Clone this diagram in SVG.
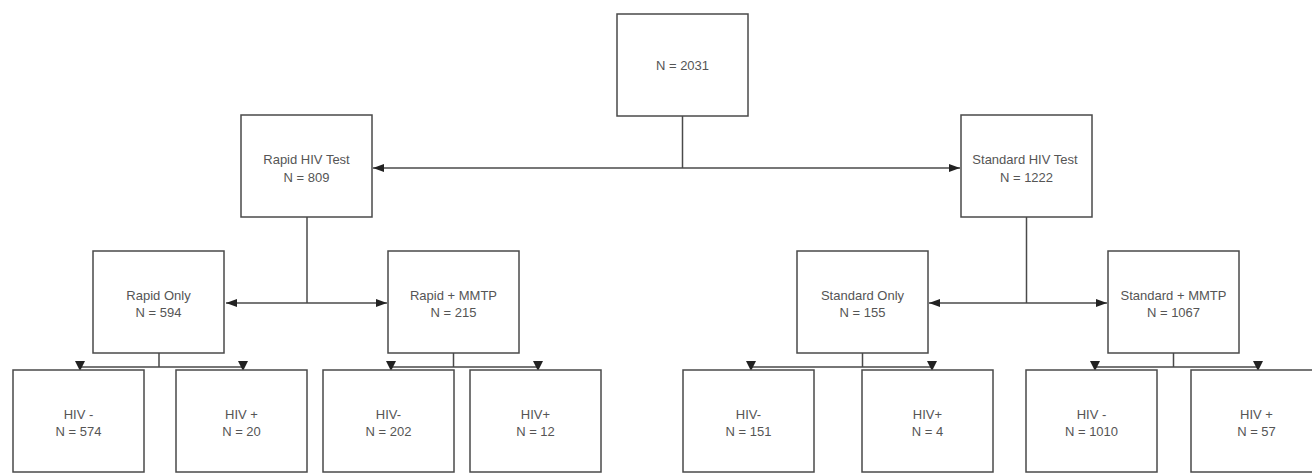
<svg xmlns="http://www.w3.org/2000/svg" width="1312" height="473" viewBox="0 0 1312 473">
<style>
.box{fill:#fff;stroke:#4a4a4a;stroke-width:1.5}
.t{font-family:"Liberation Sans",Arial,sans-serif;font-size:13px;fill:#555;text-anchor:middle}
.c{fill:none;stroke:#4a4a4a;stroke-width:1.5}
.ah{fill:#222}
</style>
<defs>
<marker id="arr" viewBox="0 0 11 8" refX="11" refY="4" markerWidth="11" markerHeight="8" markerUnits="userSpaceOnUse" orient="auto-start-reverse">
<path d="M0,0 L11,4 L0,8 z" fill="#222"/>
</marker>
</defs>
<rect width="1312" height="473" fill="#fff"/>
<g id="connectors">
<path class="c" d="M682.5,116 V168"/>
<path class="c" d="M373,168 H960" marker-start="url(#arr)" marker-end="url(#arr)"/>
<path class="c" d="M307,217 V303"/>
<path class="c" d="M226,303 H387" marker-start="url(#arr)" marker-end="url(#arr)"/>
<path class="c" d="M1026.5,217 V303"/>
<path class="c" d="M929,303 H1107" marker-start="url(#arr)" marker-end="url(#arr)"/>
<path class="c" d="M159,353 V367 M80,367 H243"/>
<polygon class="ah" points="75,361 85,361 80,371"/>
<polygon class="ah" points="238,361 248,361 243,371"/>
<path class="c" d="M453.5,353 V367 M391,367 H538"/>
<polygon class="ah" points="386,361 396,361 391,371"/>
<polygon class="ah" points="533,361 543,361 538,371"/>
<path class="c" d="M862.5,353 V367 M751,367 H932"/>
<polygon class="ah" points="746,361 756,361 751,371"/>
<polygon class="ah" points="927,361 937,361 932,371"/>
<path class="c" d="M1173.5,353 V367 M1095,367 H1258"/>
<polygon class="ah" points="1090,361 1100,361 1095,371"/>
<polygon class="ah" points="1253,361 1263,361 1258,371"/>
</g>
<g id="n-total"><rect class="box" x="617" y="14" width="131" height="102"/><text class="t" x="682.5" y="70">N = 2031</text></g>
<g id="n-rapid-test"><rect class="box" x="241" y="115" width="131" height="102"/><text class="t" x="306.5" y="163.5">Rapid HIV Test</text><text class="t" x="306.5" y="181.5">N = 809</text></g>
<g id="n-standard-test"><rect class="box" x="961" y="115" width="131" height="102"/><text class="t" x="1025" y="163.5">Standard HIV Test</text><text class="t" x="1026.5" y="181.5">N = 1222</text></g>
<g id="n-rapid-only"><rect class="box" x="93" y="251" width="131" height="102"/><text class="t" x="158.5" y="300">Rapid Only</text><text class="t" x="158.5" y="317">N = 594</text></g>
<g id="n-rapid-mmtp"><rect class="box" x="388" y="251" width="131" height="102"/><text class="t" x="453.5" y="300">Rapid + MMTP</text><text class="t" x="453.5" y="317">N = 215</text></g>
<g id="n-standard-only"><rect class="box" x="797" y="251" width="131" height="102"/><text class="t" x="862.5" y="300">Standard Only</text><text class="t" x="862.5" y="317">N = 155</text></g>
<g id="n-standard-mmtp"><rect class="box" x="1108" y="251" width="131" height="102"/><text class="t" x="1173.5" y="300">Standard + MMTP</text><text class="t" x="1173.5" y="317">N = 1067</text></g>
<g id="n-ro-neg"><rect class="box" x="13" y="370" width="131" height="102"/><text class="t" x="78.5" y="418.5">HIV -</text><text class="t" x="78.5" y="435.5">N = 574</text></g>
<g id="n-ro-pos"><rect class="box" x="176" y="370" width="131" height="102"/><text class="t" x="241.5" y="418.5">HIV +</text><text class="t" x="241.5" y="435.5">N = 20</text></g>
<g id="n-rm-neg"><rect class="box" x="323" y="370" width="131" height="102"/><text class="t" x="388.5" y="418.5">HIV-</text><text class="t" x="388.5" y="435.5">N = 202</text></g>
<g id="n-rm-pos"><rect class="box" x="470" y="370" width="131" height="102"/><text class="t" x="535.5" y="418.5">HIV+</text><text class="t" x="535.5" y="435.5">N = 12</text></g>
<g id="n-so-neg"><rect class="box" x="683" y="370" width="131" height="102"/><text class="t" x="748.5" y="418.5">HIV-</text><text class="t" x="748.5" y="435.5">N = 151</text></g>
<g id="n-so-pos"><rect class="box" x="862" y="370" width="131" height="102"/><text class="t" x="927.5" y="418.5">HIV+</text><text class="t" x="927.5" y="435.5">N = 4</text></g>
<g id="n-sm-neg"><rect class="box" x="1026" y="370" width="131" height="102"/><text class="t" x="1091.5" y="418.5">HIV -</text><text class="t" x="1091.5" y="435.5">N = 1010</text></g>
<g id="n-sm-pos"><rect class="box" x="1191" y="370" width="131" height="102"/><text class="t" x="1256.5" y="418.5">HIV +</text><text class="t" x="1256.5" y="435.5">N = 57</text></g>
</svg>
